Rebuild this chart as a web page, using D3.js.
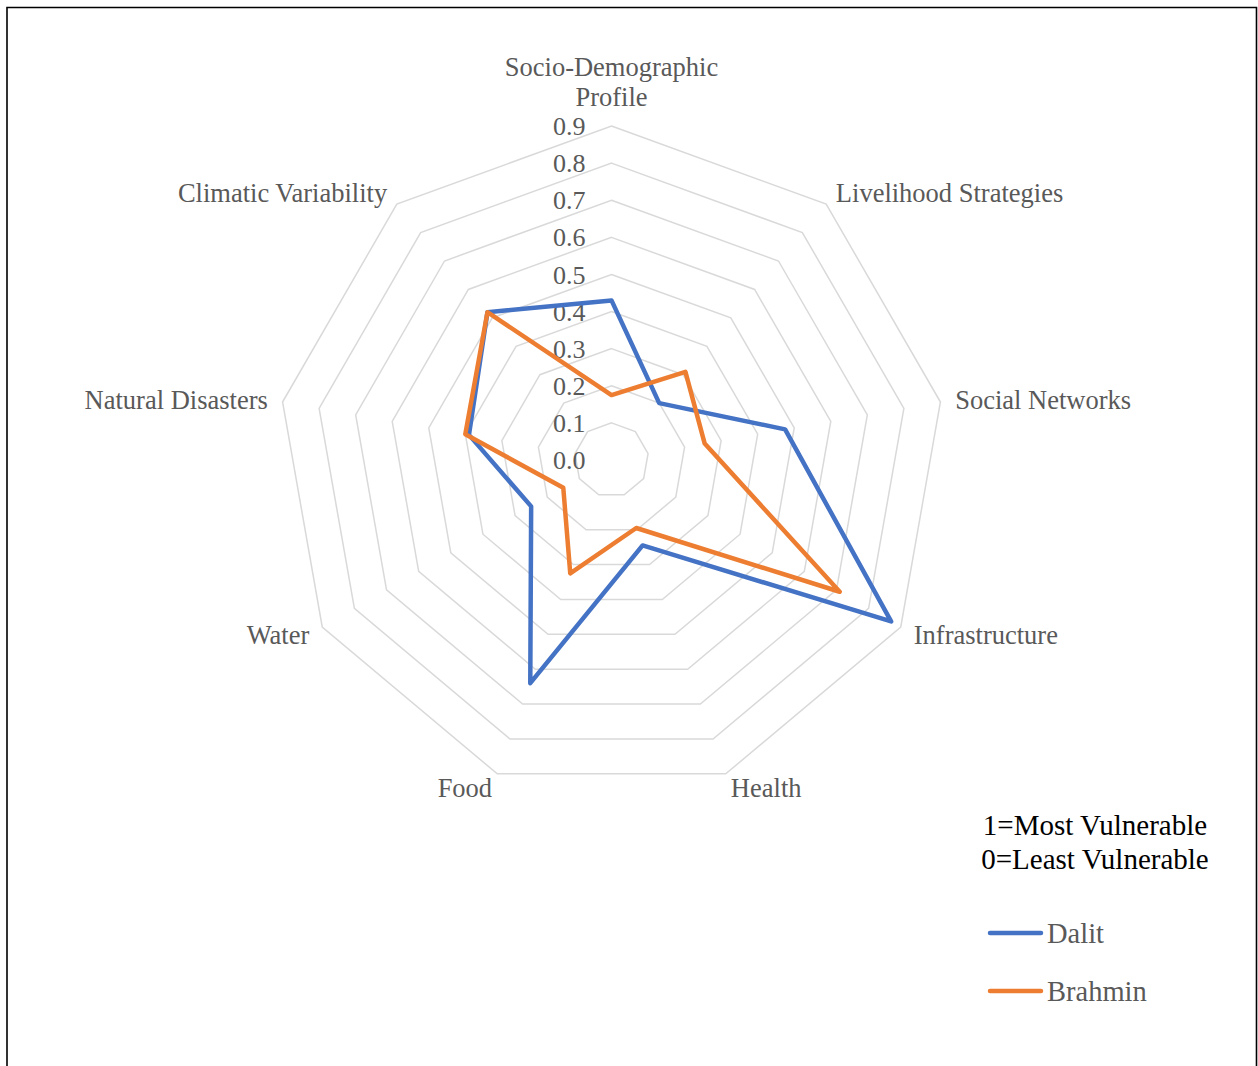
<!DOCTYPE html>
<html>
<head>
<meta charset="utf-8">
<script src="https://cdn.jsdelivr.net/npm/d3@7"></script>
<style>
  html, body { margin: 0; padding: 0; background: #fff; }
  svg { display: block; }
  text { font-family: "Liberation Serif", "Times New Roman", serif; }
</style>
</head>
<body>
<svg id="chart" width="1258" height="1066"></svg>
<script>
// Vulnerability dimensions, clockwise from the top
const categories = [
  "Socio-Demographic Profile", "Livelihood Strategies", "Social Networks",
  "Infrastructure", "Health", "Food", "Water", "Natural Disasters",
  "Climatic Variability"
];
// Index values (0 = least, 1 = most vulnerable)
const dalit   = [0.43, 0.20, 0.475, 0.87, 0.245, 0.64, 0.25, 0.39, 0.52];
const brahmin = [0.175, 0.31, 0.255, 0.71, 0.195, 0.325, 0.15, 0.40, 0.52];
const seriesNames = ["Dalit", "Brahmin"];
const seriesColors = ["#4472C4", "#ED7D31"];
const tickValues = [0, 0.1, 0.2, 0.3, 0.4, 0.5, 0.6, 0.7, 0.8, 0.9];
const tickLabels = ["0.0", "0.1", "0.2", "0.3", "0.4", "0.5", "0.6", "0.7", "0.8", "0.9"];
const noteLines = ["1=Most Vulnerable", "0=Least Vulnerable"];

const svg = d3.select("#chart");
const cx = 611.5, cy = 460;
const r = d3.scaleLinear().domain([0, 0.9]).range([0, 334]);
const angle = d3.scaleLinear().domain([0, categories.length]).range([0, 2 * Math.PI]);

const pt = (i, v) => [cx + Math.sin(angle(i)) * r(v), cy - Math.cos(angle(i)) * r(v)];

// Outer frame
svg.append("path")
  .attr("d", "M7,1070 L7,7.5 L1256.5,7.5 L1256.5,1070")
  .attr("fill", "none").attr("stroke", "#000").attr("stroke-width", 1.6);

// Concentric grid polygons
const grid = svg.append("g");
tickValues.filter(t => t > 0).forEach(t => {
  const pts = categories.map((c, i) => pt(i, t));
  grid.append("polygon")
    .attr("points", pts.map(p => p.join(",")).join(" "))
    .attr("fill", "none").attr("stroke", "#d9d9d9").attr("stroke-width", 1.5);
});

// Value labels along the top axis
svg.append("g").selectAll("text").data(tickValues).join("text")
  .attr("x", cx - 26)
  .attr("y", d => cy - r(d))
  .attr("dy", "0.35em")
  .attr("text-anchor", "end")
  .attr("font-size", 26)
  .attr("fill", "#595959")
  .text((d, i) => tickLabels[i]);

// Category labels
const catG = svg.append("g");
categories.forEach((c, i) => {
  const a = angle(i);
  const [x, y] = pt(i, 0.9);
  const off = 15;
  const lx = x + Math.sin(a) * off, ly = y - Math.cos(a) * off;
  if (i === 0) {
    const words = ["Socio-Demographic", "Profile"];
    words.forEach((w, k) => {
      catG.append("text")
        .attr("x", cx).attr("y", 67 + k * 30).attr("dy", "0.35em")
        .attr("text-anchor", "middle")
        .attr("font-size", 26.5).attr("fill", "#595959").text(w);
    });
  } else {
    const s = Math.sin(a);
    catG.append("text")
      .attr("x", lx).attr("y", ly).attr("dy", "0.35em")
      .attr("text-anchor", Math.abs(s) < 0.01 ? "middle" : (s > 0 ? "start" : "end"))
      .attr("font-size", 26.5).attr("fill", "#595959").text(c);
  }
});

// Series outlines
const line = d3.line().curve(d3.curveLinearClosed);
[dalit, brahmin].forEach((vals, k) => {
  svg.append("path")
    .attr("d", line(vals.map((v, i) => pt(i, v))))
    .attr("fill", "none")
    .attr("stroke", seriesColors[k])
    .attr("stroke-width", 4.5)
    .attr("stroke-linejoin", "round");
});

// Scale note
noteLines.forEach((t, k) => {
  svg.append("text")
    .attr("x", 1095).attr("y", 825 + k * 34).attr("dy", "0.35em")
    .attr("text-anchor", "middle")
    .attr("font-size", 29).attr("fill", "#000").text(t);
});

// Legend
seriesNames.forEach((n, k) => {
  const y = 933 + k * 58;
  svg.append("line")
    .attr("x1", 990).attr("x2", 1041).attr("y1", y).attr("y2", y)
    .attr("stroke", seriesColors[k]).attr("stroke-width", 4.5)
    .attr("stroke-linecap", "round");
  svg.append("text")
    .attr("x", 1047).attr("y", y).attr("dy", "0.35em")
    .attr("font-size", 28.5).attr("fill", "#595959").text(n);
});
</script>
</body>
</html>
